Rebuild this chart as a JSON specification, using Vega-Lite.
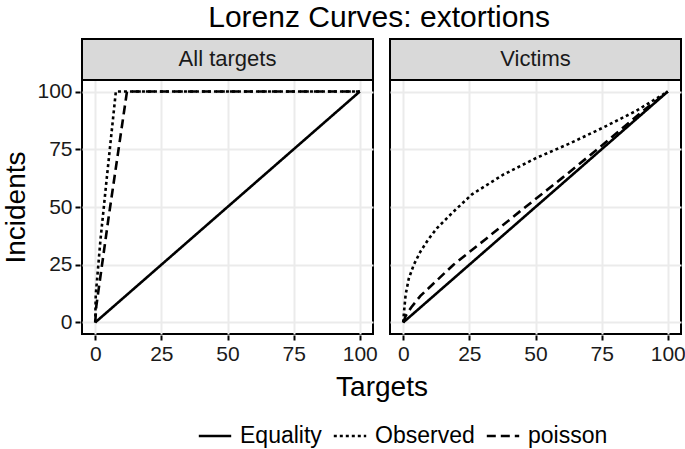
{
  "$schema": "https://vega.github.io/schema/vega-lite/v6.json",
  "padding": {"left": 2, "top": 3, "right": 2, "bottom": 2},
  "background": "white",
  "title": {"text": "Lorenz Curves: extortions", "fontSize": 30, "font": "Liberation Sans", "fontWeight": "normal", "color": "black", "anchor": "middle", "offset": 4, "dx": 35},
  "data": {"values": [
      {"panel": "All targets", "curve": "Equality", "x": 0, "y": 0},
      {"panel": "All targets", "curve": "Equality", "x": 100, "y": 100},
      {"panel": "All targets", "curve": "Observed", "x": 0, "y": 0},
      {"panel": "All targets", "curve": "Observed", "x": 0.2, "y": 12},
      {"panel": "All targets", "curve": "Observed", "x": 2, "y": 36},
      {"panel": "All targets", "curve": "Observed", "x": 4.5, "y": 64},
      {"panel": "All targets", "curve": "Observed", "x": 7.8, "y": 100},
      {"panel": "All targets", "curve": "Observed", "x": 100, "y": 100},
      {"panel": "All targets", "curve": "poisson", "x": 0, "y": 0},
      {"panel": "All targets", "curve": "poisson", "x": 0.4, "y": 7},
      {"panel": "All targets", "curve": "poisson", "x": 5, "y": 45},
      {"panel": "All targets", "curve": "poisson", "x": 12, "y": 100},
      {"panel": "All targets", "curve": "poisson", "x": 100, "y": 100},
      {"panel": "Victims", "curve": "Equality", "x": 0, "y": 0},
      {"panel": "Victims", "curve": "Equality", "x": 100, "y": 100},
      {"panel": "Victims", "curve": "Observed", "x": 0, "y": 0},
      {"panel": "Victims", "curve": "Observed", "x": 0.3, "y": 4.6},
      {"panel": "Victims", "curve": "Observed", "x": 0.9, "y": 12},
      {"panel": "Victims", "curve": "Observed", "x": 2.1, "y": 19},
      {"panel": "Victims", "curve": "Observed", "x": 4, "y": 25},
      {"panel": "Victims", "curve": "Observed", "x": 6.5, "y": 30.7},
      {"panel": "Victims", "curve": "Observed", "x": 9.5, "y": 36},
      {"panel": "Victims", "curve": "Observed", "x": 12.8, "y": 40.9},
      {"panel": "Victims", "curve": "Observed", "x": 19, "y": 48},
      {"panel": "Victims", "curve": "Observed", "x": 26, "y": 55.5},
      {"panel": "Victims", "curve": "Observed", "x": 37.8, "y": 64},
      {"panel": "Victims", "curve": "Observed", "x": 50.4, "y": 71.3},
      {"panel": "Victims", "curve": "Observed", "x": 62.9, "y": 77.5},
      {"panel": "Victims", "curve": "Observed", "x": 75.4, "y": 84.3},
      {"panel": "Victims", "curve": "Observed", "x": 88, "y": 91.6},
      {"panel": "Victims", "curve": "Observed", "x": 100, "y": 100},
      {"panel": "Victims", "curve": "poisson", "x": 0, "y": 0},
      {"panel": "Victims", "curve": "poisson", "x": 1, "y": 3},
      {"panel": "Victims", "curve": "poisson", "x": 3, "y": 6.5},
      {"panel": "Victims", "curve": "poisson", "x": 6.5, "y": 11.5},
      {"panel": "Victims", "curve": "poisson", "x": 19, "y": 25},
      {"panel": "Victims", "curve": "poisson", "x": 31.6, "y": 36.5},
      {"panel": "Victims", "curve": "poisson", "x": 44, "y": 48},
      {"panel": "Victims", "curve": "poisson", "x": 60, "y": 62.5},
      {"panel": "Victims", "curve": "poisson", "x": 75, "y": 76.5},
      {"panel": "Victims", "curve": "poisson", "x": 90, "y": 91},
      {"panel": "Victims", "curve": "poisson", "x": 100, "y": 100}
  ]},
  "facet": {"column": {"field": "panel", "type": "nominal",
    "header": {"labels": false, "title": "Targets", "titleOrient": "bottom", "titleFontSize": 28, "titleFont": "Liberation Sans", "titleFontWeight": "normal", "titleColor": "black", "titlePadding": 0}}},
  "spacing": {"column": 13},
  "spec": {
    "width": 291, "height": 295,
    "view": {"stroke": "black", "strokeWidth": 2},
    "layer": [
      {
        "mark": {"type": "line", "strokeWidth": 2.6, "color": "black"},
        "encoding": {
          "x": {"field": "x", "type": "quantitative", "scale": {"domain": [-5, 105], "nice": false, "zero": false},
            "axis": {"values": [0, 12.5, 25, 37.5, 50, 62.5, 75, 87.5, 100], "title": null,
              "labelExpr": "datum.value % 25 == 0 ? datum.label : ''",
              "tickOpacity": {"condition": {"test": "datum.value % 25 != 0", "value": 0}, "value": 1},
              "gridWidth": {"condition": {"test": "datum.value % 25 != 0", "value": 1}, "value": 2}}},
          "y": {"field": "y", "type": "quantitative", "scale": {"domain": [-5, 122.76], "nice": false, "zero": false},
            "axis": {"values": [0, 12.5, 25, 37.5, 50, 62.5, 75, 87.5, 100], "title": "Incidents", "titleY": 168,
              "labelExpr": "datum.value % 25 == 0 ? datum.label : ''",
              "tickOpacity": {"condition": {"test": "datum.value % 25 != 0", "value": 0}, "value": 1},
              "gridWidth": {"condition": {"test": "datum.value % 25 != 0", "value": 1}, "value": 2}}},
          "strokeDash": {"field": "curve", "type": "nominal",
            "scale": {"domain": ["Equality", "Observed", "poisson"], "range": [[1, 0], [3, 3], [9, 5]]},
            "legend": {"title": null, "orient": "none", "legendX": 115, "legendY": 379, "direction": "horizontal", "symbolType": "stroke", "symbolSize": 1050, "symbolStrokeWidth": 2.6, "symbolStrokeColor": "black", "labelFontSize": 23, "labelFont": "Liberation Sans", "labelColor": "black", "labelOffset": 7, "columnPadding": 6, "symbolOffset": 0}}
        }
      },
      {
        "transform": [{"filter": "datum.curve == 'Equality' && datum.x == 0"}],
        "mark": {"type": "rect", "fill": "#d9d9d9", "stroke": "black", "strokeWidth": 2},
        "encoding": {
          "x": {"datum": -5}, "x2": {"datum": 105},
          "y": {"datum": 105}, "y2": {"datum": 122.76}
        }
      },
      {
        "transform": [{"filter": "datum.curve == 'Equality' && datum.x == 0"}],
        "mark": {"type": "text", "fontSize": 22, "font": "Liberation Sans", "color": "#1a1a1a", "align": "center", "baseline": "middle"},
        "encoding": {
          "x": {"datum": 50},
          "y": {"datum": 113.9},
          "text": {"field": "panel"}
        }
      }
    ]
  },
  "config": {
    "font": "Liberation Sans",
    "axis": {
      "domain": false, "gridColor": "#ebebeb", "tickColor": "black", "tickSize": 5, "tickWidth": 2,
      "labelFontSize": 21, "labelColor": "#1a1a1a", "labelFont": "Liberation Sans", "labelPadding": 3,
      "titleFontSize": 28, "titleFont": "Liberation Sans", "titleFontWeight": "normal", "titleColor": "black", "titlePadding": 6
    }
  }
}
